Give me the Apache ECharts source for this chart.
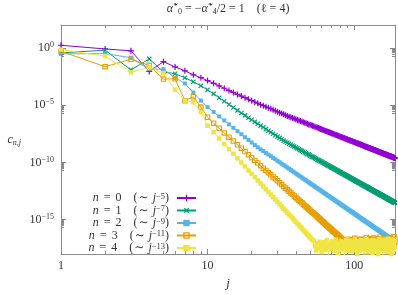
<!DOCTYPE html>
<html><head><meta charset="utf-8">
<script src="https://cdn.jsdelivr.net/npm/echarts@6/dist/echarts.min.js"></script>
<style>html,body{margin:0;padding:0;background:#fff}#c{width:398px;height:295px}</style>
</head><body><div id="c"></div>
<script>
// x positions (j = 1 ... 190)
const J = Array.from({length: 190}, (_, i) => i + 1);

// n = 0
const c0 = [1.7,0.81,0.56,8.9e-3,6.3e-2,2.2e-2,1.0e-2,4.5e-3,2.5e-3,1.4e-3,
8.1e-4,4.8e-4,3.0e-4,1.9e-4,1.3e-4,8.7e-5,6.2e-5,4.5e-5,3.3e-5,2.5e-5,
1.9e-5,1.5e-5,1.1e-5,9.1e-6,7.2e-6,5.9e-6,4.8e-6,3.9e-6,3.2e-6,2.7e-6,
2.2e-6,1.9e-6,1.6e-6,1.35e-6,1.15e-6,1.0e-6,8.7e-7,7.6e-7,6.8e-7,5.9e-7,
5.2e-7,4.7e-7,4.2e-7,3.7e-7,3.3e-7,3.0e-7,2.6e-7,2.4e-7,2.1e-7,1.95e-7,
1.75e-7,1.6e-7,1.45e-7,1.3e-7,1.2e-7,1.1e-7,1.0e-7,9.3e-8,8.5e-8,7.8e-8,
7.2e-8,6.6e-8,6.2e-8,5.6e-8,5.2e-8,4.8e-8,4.5e-8,4.2e-8,3.9e-8,3.6e-8,
3.4e-8,3.2e-8,2.95e-8,2.75e-8,2.55e-8,2.4e-8,2.25e-8,2.1e-8,1.95e-8,1.85e-8,
1.75e-8,1.6e-8,1.55e-8,1.45e-8,1.4e-8,1.3e-8,1.2e-8,1.15e-8,1.1e-8,1.03e-8,
9.8e-9,9.1e-9,8.7e-9,8.3e-9,7.8e-9,7.4e-9,7.1e-9,6.7e-9,6.3e-9,6.0e-9,
5.8e-9,5.5e-9,5.2e-9,5.0e-9,4.8e-9,4.6e-9,4.4e-9,4.2e-9,4.0e-9,3.8e-9,
3.6e-9,3.45e-9,3.3e-9,3.15e-9,3.0e-9,2.9e-9,2.75e-9,2.6e-9,2.5e-9,2.4e-9,
2.3e-9,2.2e-9,2.1e-9,2.05e-9,1.95e-9,1.9e-9,1.8e-9,1.75e-9,1.7e-9,1.6e-9,
1.55e-9,1.5e-9,1.45e-9,1.4e-9,1.35e-9,1.3e-9,1.25e-9,1.2e-9,1.16e-9,1.12e-9,
1.08e-9,1.05e-9,1.0e-9,9.7e-10,9.4e-10,9.1e-10,8.8e-10,8.5e-10,8.2e-10,7.9e-10,
7.6e-10,7.4e-10,7.1e-10,6.9e-10,6.7e-10,6.5e-10,6.3e-10,6.1e-10,5.9e-10,5.7e-10,
5.5e-10,5.4e-10,5.2e-10,5.05e-10,4.9e-10,4.8e-10,4.6e-10,4.5e-10,4.35e-10,4.25e-10,
4.1e-10,4.0e-10,3.9e-10,3.75e-10,3.65e-10,3.55e-10,3.45e-10,3.4e-10,3.25e-10,3.15e-10,
3.1e-10,3.0e-10,2.95e-10,2.85e-10,2.75e-10,2.7e-10,2.6e-10,2.55e-10,2.5e-10,2.4e-10];

// n = 1
const c1 = [0.37,0.63,1.2e-2,0.11,7.9e-3,5.6e-3,2.5e-3,1.1e-3,5.0e-4,2.2e-4,
9.7e-5,4.5e-5,2.2e-5,1.15e-5,6.2e-6,3.5e-6,2.1e-6,1.3e-6,8.1e-7,5.3e-7,
3.5e-7,2.4e-7,1.65e-7,1.17e-7,8.2e-8,5.9e-8,4.4e-8,3.2e-8,2.4e-8,1.8e-8,
1.4e-8,1.05e-8,8.1e-9,6.5e-9,5.2e-9,4.3e-9,3.5e-9,2.9e-9,2.4e-9,2.0e-9,
1.7e-9,1.44e-9,1.2e-9,1.03e-9,8.7e-10,7.4e-10,6.4e-10,5.5e-10,4.8e-10,4.1e-10,
3.5e-10,3.1e-10,2.7e-10,2.4e-10,2.1e-10,1.8e-10,1.6e-10,1.44e-10,1.26e-10,1.12e-10,
1.0e-10,8.9e-11,7.9e-11,7.1e-11,6.3e-11,5.6e-11,5.1e-11,4.6e-11,4.1e-11,3.7e-11,
3.4e-11,3.1e-11,2.8e-11,2.5e-11,2.3e-11,2.1e-11,1.9e-11,1.74e-11,1.55e-11,1.44e-11,
1.32e-11,1.2e-11,1.1e-11,1.02e-11,9.3e-12,8.7e-12,7.8e-12,7.4e-12,6.8e-12,6.2e-12,
5.8e-12,5.3e-12,5.0e-12,4.6e-12,4.2e-12,4.0e-12,3.6e-12,3.4e-12,3.2e-12,2.95e-12,
2.75e-12,2.5e-12,2.35e-12,2.2e-12,2.1e-12,1.95e-12,1.8e-12,1.7e-12,1.6e-12,1.5e-12,
1.4e-12,1.3e-12,1.23e-12,1.15e-12,1.08e-12,1.03e-12,9.6e-13,9.0e-13,8.5e-13,8.0e-13,
7.5e-13,7.1e-13,6.7e-13,6.4e-13,6.0e-13,5.7e-13,5.3e-13,5.0e-13,4.8e-13,4.5e-13,
4.3e-13,4.0e-13,3.8e-13,3.65e-13,3.5e-13,3.25e-13,3.1e-13,2.95e-13,2.8e-13,2.7e-13,
2.5e-13,2.4e-13,2.3e-13,2.2e-13,2.1e-13,2.0e-13,1.9e-13,1.8e-13,1.7e-13,1.63e-13,
1.55e-13,1.48e-13,1.41e-13,1.35e-13,1.3e-13,1.23e-13,1.17e-13,1.12e-13,1.08e-13,1.03e-13,
9.8e-14,9.3e-14,9.1e-14,8.6e-14,8.3e-14,7.9e-14,7.5e-14,7.3e-14,6.9e-14,6.7e-14,
6.4e-14,6.1e-14,5.9e-14,5.6e-14,5.4e-14,5.2e-14,5.0e-14,4.8e-14,4.6e-14,4.5e-14,
4.3e-14,4.1e-14,4.0e-14,3.8e-14,3.65e-14,3.5e-14,3.4e-14,3.25e-14,3.15e-14,3.0e-14];

// n = 2
const c2 = [0.30,0.32,0.14,1.4e-2,1.4e-2,2.5e-3,7.9e-4,1.3e-4,2.5e-5,6.8e-6,
2.6e-6,1.05e-6,4.6e-7,2.1e-7,1.05e-7,5.4e-8,2.95e-8,1.6e-8,9.2e-9,5.5e-9,
3.3e-9,2.1e-9,1.4e-9,9.9e-10,6.9e-10,4.9e-10,3.5e-10,2.5e-10,1.9e-10,1.4e-10,
1.05e-10,7.8e-11,5.9e-11,4.6e-11,3.6e-11,2.8e-11,2.2e-11,1.7e-11,1.38e-11,1.1e-11,
8.8e-12,7.2e-12,5.9e-12,4.8e-12,3.9e-12,3.2e-12,2.7e-12,2.2e-12,1.85e-12,1.55e-12,
1.29e-12,1.1e-12,9.3e-13,7.9e-13,6.7e-13,5.7e-13,4.9e-13,4.2e-13,3.6e-13,3.1e-13,
2.7e-13,2.3e-13,2.0e-13,1.77e-13,1.53e-13,1.33e-13,1.18e-13,1.02e-13,9.0e-14,8.0e-14,
7.1e-14,6.3e-14,5.6e-14,4.9e-14,4.4e-14,3.9e-14,3.5e-14,3.1e-14,2.7e-14,2.5e-14,
2.2e-14,2.0e-14,1.8e-14,1.6e-14,1.46e-14,1.32e-14,1.17e-14,1.07e-14,9.7e-15,8.8e-15,
7.9e-15,7.2e-15,6.6e-15,6.0e-15,5.4e-15,5.0e-15,4.5e-15,4.2e-15,3.8e-15,3.5e-15,
3.2e-15,2.9e-15,2.7e-15,2.45e-15,2.25e-15,2.1e-15,1.9e-15,1.77e-15,1.63e-15,1.5e-15,
1.39e-15,1.28e-15,1.18e-15,1.09e-15,1.0e-15,9.5e-16,8.7e-16,8.1e-16,7.4e-16,7.0e-16,
6.5e-16,6.1e-16,5.6e-16,5.3e-16,4.9e-16,4.6e-16,4.2e-16,4.0e-16,3.7e-16,3.45e-16,
3.2e-16,3.0e-16,2.8e-16,2.6e-16,2.5e-16,2.3e-16,2.15e-16,2.0e-16,1.9e-16,1.8e-16,
1.7e-16,1.6e-16,1.5e-16,1.4e-16,1.33e-16,1.25e-16,1.17e-16,1.1e-16,1.04e-16,9.8e-17,
9.2e-17,8.7e-17,8.2e-17,7.6e-17,7.4e-17,6.9e-17,6.5e-17,6.2e-17,5.9e-17,5.5e-17,
5.2e-17,4.9e-17,4.7e-17,4.5e-17,4.3e-17,4.0e-17,3.8e-17,3.6e-17,3.4e-17,3.25e-17,
3.1e-17,2.9e-17,2.8e-17,2.6e-17,2.5e-17,2.35e-17,2.3e-17,2.2e-17,2.05e-17,2.0e-17,
1.85e-17,1.8e-17,1.7e-17,1.6e-17,1.55e-17,1.45e-17,1.4e-17,1.35e-17,1.3e-17,1.2e-17];

// n = 3
const c3 = [0.50,2.3e-2,0.10,3.0e-2,1.9e-3,2.0e-3,2.5e-5,5.5e-5,6.8e-6,8.9e-7,
2.7e-7,9.8e-8,3.8e-8,1.6e-8,7.4e-9,3.5e-9,1.75e-9,9.0e-10,4.8e-10,2.6e-10,
1.5e-10,8.9e-11,5.2e-11,3.2e-11,2.0e-11,1.28e-11,8.3e-12,5.5e-12,3.7e-12,2.5e-12,
1.7e-12,1.17e-12,8.1e-13,5.9e-13,4.2e-13,3.0e-13,2.2e-13,1.58e-13,1.18e-13,8.9e-14,
6.6e-14,5.0e-14,3.9e-14,3.0e-14,2.3e-14,1.74e-14,1.38e-14,1.07e-14,8.5e-15,6.7e-15,
5.3e-15,4.3e-15,3.5e-15,2.8e-15,2.25e-15,1.82e-15,1.48e-15,1.23e-15,9.9e-16,8.2e-16,
6.8e-16,5.6e-16,4.7e-16,3.9e-16,3.2e-16,2.7e-16,2.3e-16,1.9e-16,1.62e-16,1.38e-16,
1.17e-16,1.0e-16,8.5e-17,7.3e-17,6.2e-17,5.3e-17,4.6e-17,4.0e-17,3.4e-17,2.95e-17,
2.6e-17,2.2e-17,1.9e-17,1.7e-17,1.5e-17,1.3e-17,
1.1e-17,1.6e-17,6e-18,1.3e-17,8e-18,2e-17,5e-18,1e-17,1.4e-17,7e-18,
1.8e-17,4e-18,1.2e-17,9e-18,2.4e-17,6e-18,1.5e-17,1e-17,5e-18,1.7e-17,
8e-18,1.3e-17,3e-18,1.1e-17,2e-17,7e-18,1.4e-17,9e-18,1.9e-17,6e-18,
1.2e-17,4e-18,1.6e-17,1e-17,2.8e-17,7e-18,1.3e-17,5e-18,1.8e-17,9e-18,
1.1e-17,2.2e-17,6e-18,1.5e-17,8e-18,1.2e-17,3.5e-18,1.7e-17,1e-17,2.5e-17,
7e-18,1.4e-17,5e-18,1.9e-17,9e-18,1.3e-17,6e-18,2.1e-17,1.1e-17,4e-18,
1.6e-17,8e-18,1.2e-17,3e-17,7e-18,1.5e-17,1e-17,5e-18,2e-17,9e-18,
1.3e-17,6e-18,1.8e-17,1.1e-17,4.5e-18,2.6e-17,8e-18,1.4e-17,1e-17,6e-18,
1.7e-17,3e-18,1.2e-17,2.2e-17,9e-18,1.5e-17,7e-18,1.9e-17,1.1e-17,5e-18,
2.4e-17,8e-18,1.3e-17,1e-17,1.6e-17,6e-18,2e-17,1.2e-17,9e-18,1.4e-17,
3.2e-17,7e-18,1.1e-17,1.8e-17];

// n = 4
const c4 = [0.71,0.19,7.4e-3,2.0e-2,6.3e-3,2.2e-4,2.5e-5,1.8e-5,2.5e-6,1.6e-7,
4.3e-8,1.26e-8,4.1e-9,1.47e-9,5.6e-10,2.3e-10,1.0e-10,4.5e-11,2.0e-11,1.02e-11,
5.2e-12,2.7e-12,1.43e-12,8.1e-13,4.5e-13,2.6e-13,1.58e-13,9.4e-14,5.8e-14,3.6e-14,
2.3e-14,1.46e-14,9.3e-15,6.3e-15,4.2e-15,2.8e-15,1.95e-15,1.32e-15,9.3e-16,6.5e-16,
4.6e-16,3.3e-16,2.4e-16,1.74e-16,1.26e-16,9.2e-17,6.9e-17,5.1e-17,3.9e-17,2.9e-17,
2.2e-17,1.7e-17,
1.4e-17,5e-18,2e-18,9e-18,3e-18,1.2e-17,6e-18,1.5e-18,4e-18,1.1e-17,
7e-18,2.5e-18,1.6e-17,4.5e-18,8e-19,6e-18,1e-17,3e-18,1.3e-17,5e-18,
2e-18,8e-18,1.8e-17,3.5e-18,7e-18,1.2e-18,9e-18,4e-18,1.4e-17,2.5e-18,
6e-18,1.1e-17,3e-18,5e-19,8e-18,1.7e-17,4e-18,2e-18,1e-17,6e-18,
1.5e-17,3e-18,7e-18,1.8e-18,1.2e-17,5e-18,9e-18,2.2e-18,2e-17,4e-18,
6e-18,1.3e-17,1e-18,8e-18,3.5e-18,1.1e-17,5.5e-18,2e-18,1.6e-17,7e-18,
3e-18,9e-18,1.4e-17,4.5e-18,6e-19,1e-17,6e-18,2.5e-18,1.9e-17,4e-18,
8e-18,1.5e-18,1.2e-17,5e-18,3e-18,1.5e-17,7e-18,2e-18,1.1e-17,4e-18,
9e-18,1.3e-18,1.7e-17,6e-18,3.5e-18,1e-17,5e-18,2.2e-18,1.4e-17,8e-18,
3e-18,1.2e-17,6.5e-18,1e-18,9e-18,2e-17,4e-18,2.5e-18,1.1e-17,7e-18,
1.6e-17,3e-18,5e-18,1.3e-17,8e-19,8e-18,1.8e-17,4e-18,2e-18,1e-17,
6e-18,1.4e-17,3.5e-18,9e-18,1.5e-18,1.2e-17,5e-18,2.2e-17,7e-18,3e-18,
1.1e-17,4.5e-18,1.6e-17,2e-18,8e-18,1.3e-17,6e-18,1e-18,1.9e-17,5e-18,
9e-18,3e-18,1.5e-17,7e-18,2.5e-18,1.2e-17,4e-18,1.7e-17];

const seriesNames = ['n = 0', 'n = 1', 'n = 2', 'n = 3', 'n = 4'];
const nIndex = ['0', '1', '2', '3', '4'];
const powers = ['−5', '−7', '−9', '−11', '−13'];

// axis ticks
const xMinorTicks = [2,3,4,5,6,7,8,9,20,30,40,50,60,70,80,90];
const yMajorTicks = [1, 1e-5, 1e-10, 1e-15];
const yMinorSteps = [0.2,0.3,0.4,0.5,0.6,0.7,0.8,0.9];

const X_MIN = 1, X_MAX = 190, Y_MIN = 1e-18, Y_MAX = 100;
const colors = ['#9400d3', '#009e73', '#56b4e9', '#e69f00', '#f0e442'];
const PLUS = 'path://M0,4H10V6H0ZM4,0H6V10H4Z';
const OPEN_SQ = 'path://M0,0H10V10H0ZM2,2V8H8V2Z';
const symbols = [PLUS, PLUS, 'rect', OPEN_SQ, 'rect'];
const symbolSizes = [6, 6, 4, 5.5, 4.5];
const symbolRot = [0, 45, 0, 0, 0];
const SERIF = "'Liberation Serif','DejaVu Serif',serif";
const TXT = '#333';
const AXC = '#8a8a8a';

const tickLines = [];
xMinorTicks.forEach(x => {
  tickLines.push([{coord: [x, Y_MIN]}, {coord: [x, 1.8e-18]}]);
  tickLines.push([{coord: [x, Y_MAX]}, {coord: [x, 55]}]);
});
yMajorTicks.forEach(y => {
  tickLines.push([{coord: [X_MIN, y]}, {coord: [1.082, y]}]);
  tickLines.push([{coord: [X_MAX, y]}, {coord: [175.6, y]}]);
  yMinorSteps.forEach(m => {
    tickLines.push([{coord: [X_MIN, y * m]}, {coord: [1.048, y * m]}]);
    tickLines.push([{coord: [X_MAX, y * m]}, {coord: [181.3, y * m]}]);
  });
});

const allC = [c0, c1, c2, c3, c4];
const series = allC.map((vals, i) => ({
  name: seriesNames[i],
  type: 'line',
  data: J.map((j, k) => [j, vals[k]]),
  symbol: symbols[i],
  symbolSize: symbolSizes[i],
  symbolRotate: symbolRot[i],
  showSymbol: true,
  showAllSymbol: true,
  clip: true,
  silent: true,
  animation: false,
  lineStyle: {width: 1, color: colors[i]},
  itemStyle: {color: colors[i]},
  z: 2 + i
}));
series.push({
  type: 'line', data: [], silent: true, animation: false, z: 10,
  markLine: {
    silent: true, animation: false, symbol: ['none', 'none'],
    label: {show: false},
    lineStyle: {color: AXC, width: 1, type: 'solid'},
    emphasis: {disabled: true},
    data: tickLines
  }
});

const supStyle = {fontFamily: SERIF, fontSize: 8, fontWeight: 'normal', lineHeight: 8, verticalAlign: 'top', color: TXT};
const subStyle = {fontFamily: SERIF, fontSize: 8, fontWeight: 'normal', lineHeight: 8, verticalAlign: 'bottom', color: TXT};

const chart = echarts.init(document.getElementById('c'), null, {renderer: 'canvas'});
chart.setOption({
  animation: false,
  backgroundColor: '#fff',
  title: {
    text: '{a|α̃}{sp|⋆}{sb|0}{m| = −}{a|α̃}{sp|⋆}{sb|4}{m|/2 = 1    (ℓ = 4)}',
    left: 228, top: 1, padding: 0, textAlign: 'center',
    textStyle: {
      fontWeight: 'normal',
      rich: {
        a: {fontFamily: SERIF, fontSize: 12, fontWeight: 'normal', fontStyle: 'italic', lineHeight: 15, color: TXT},
        m: {fontFamily: SERIF, fontSize: 12, fontWeight: 'normal', lineHeight: 15, color: TXT},
        sp: supStyle, sb: subStyle
      }
    }
  },
  grid: {left: 61, right: 3, top: 25, bottom: 38},
  legend: {
    data: seriesNames,
    orient: 'vertical', align: 'right',
    right: 201, top: 192, padding: 0,
    itemWidth: 19, itemHeight: 8, itemGap: 0.5,
    selectedMode: false,
    formatter: name => {
      const i = seriesNames.indexOf(name);
      return '{i|n}{e|=}{r|' + nIndex[i] + '}{g|}{r|(}{t|∼}{i|j}{p|' + powers[i] + '}{q|)}';
    },
    textStyle: {
      fontFamily: SERIF, fontSize: 12, color: TXT,
      rich: {
        i: {fontFamily: SERIF, fontSize: 12, fontStyle: 'italic', lineHeight: 12, color: TXT},
        r: {fontFamily: SERIF, fontSize: 12, lineHeight: 12, color: TXT},
        e: {fontFamily: SERIF, fontSize: 12, lineHeight: 12, color: TXT, padding: [0, 5, 0, 5]},
        t: {fontFamily: SERIF, fontSize: 12, lineHeight: 12, color: TXT, padding: [0, 4, 0, 1]},
        q: {fontFamily: SERIF, fontSize: 12, lineHeight: 12, color: TXT, padding: [0, 3, 0, 0]},
        g: {width: 12, lineHeight: 12},
        p: {fontFamily: SERIF, fontSize: 8.5, lineHeight: 8, verticalAlign: 'top', color: TXT}
      }
    }
  },
  xAxis: [{
    type: 'log', logBase: 10, min: X_MIN, max: X_MAX, interval: 1,
    name: 'j', nameLocation: 'middle', nameGap: 21,
    nameTextStyle: {fontFamily: SERIF, fontSize: 13, fontStyle: 'italic', color: TXT},
    axisLine: {lineStyle: {color: AXC, width: 1}},
    axisTick: {inside: true, length: 5, lineStyle: {color: AXC}},
    splitLine: {show: false},
    axisLabel: {
      margin: 6, fontFamily: SERIF, fontSize: 12, color: TXT, showMaxLabel: false,
      formatter: v => {
        const e = Math.log10(v);
        return Math.abs(e - Math.round(e)) < 1e-6 ? String(Math.round(v)) : '';
      }
    }
  }, {
    type: 'log', logBase: 10, min: X_MIN, max: X_MAX, interval: 1, position: 'top',
    axisLine: {show: true, lineStyle: {color: AXC, width: 1}},
    axisTick: {inside: true, length: 5, lineStyle: {color: AXC}},
    axisLabel: {show: false}, splitLine: {show: false}
  }],
  yAxis: [{
    type: 'log', logBase: 10, min: Y_MIN, max: Y_MAX, interval: 1,
    name: '{c|c}{s|n,j}', nameLocation: 'middle', nameGap: 40, nameRotate: 0,
    nameTextStyle: {
      rich: {
        c: {fontFamily: SERIF, fontSize: 12, fontStyle: 'italic', lineHeight: 14, color: TXT},
        s: {fontFamily: SERIF, fontSize: 8, fontStyle: 'italic', lineHeight: 8, verticalAlign: 'bottom', color: TXT}
      }
    },
    axisLine: {show: true, lineStyle: {color: AXC, width: 1}},
    axisTick: {show: false},
    splitLine: {show: false},
    axisLabel: {
      margin: 7, showMinLabel: false, showMaxLabel: false,
      formatter: v => {
        const e = Math.round(Math.log10(v));
        if (e % 5 !== 0) return '';
        return '{b|10}{s|' + (e < 0 ? '−' + (-e) : String(e)) + '}';
      },
      rich: {
        b: {fontFamily: SERIF, fontSize: 12, lineHeight: 14, color: TXT},
        s: {fontFamily: SERIF, fontSize: 8, lineHeight: 8, verticalAlign: 'top', color: TXT}
      }
    }
  }, {
    type: 'log', logBase: 10, min: Y_MIN, max: Y_MAX, interval: 1, position: 'right',
    axisLine: {show: true, lineStyle: {color: AXC, width: 1}},
    axisTick: {show: false}, axisLabel: {show: false}, splitLine: {show: false}
  }],
  series: series
});
</script>
</body></html>
